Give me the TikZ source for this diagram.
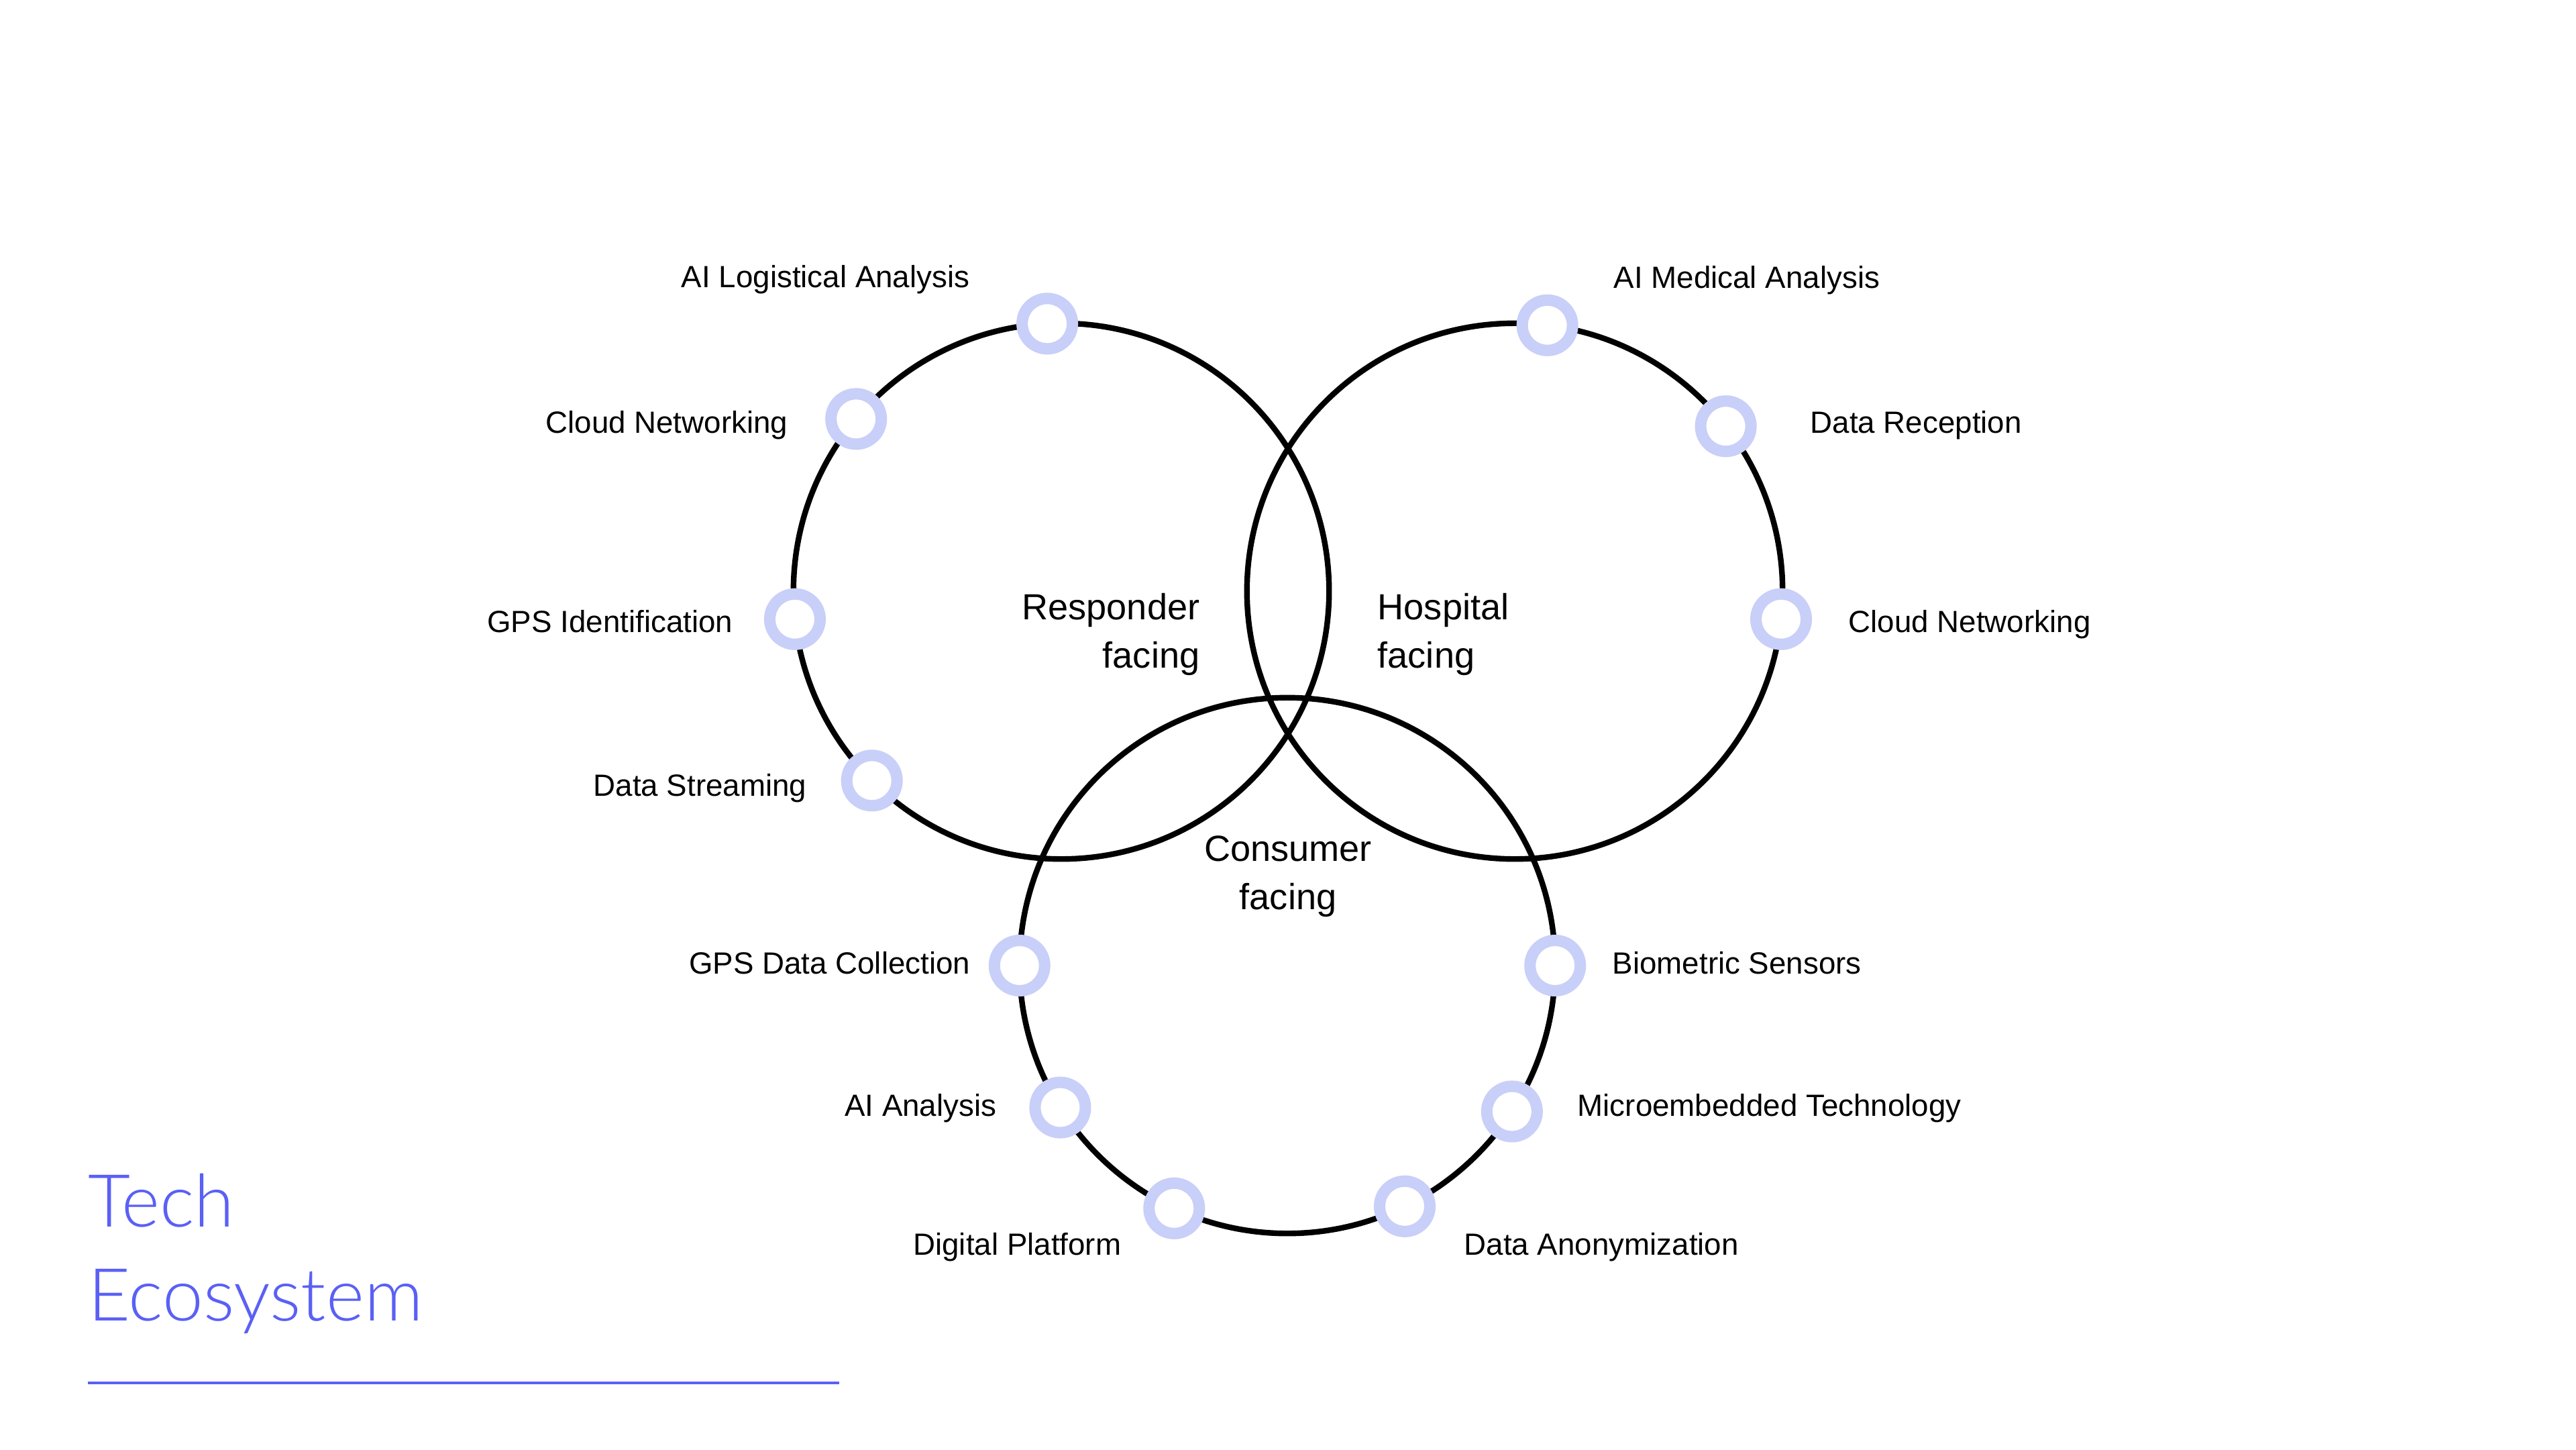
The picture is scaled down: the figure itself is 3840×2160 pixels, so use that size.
\documentclass[tikz,border=0pt]{standalone}
\usepackage{fontspec}
\setmainfont{Liberation Sans}
\newfontfamily\titlefont{Lato Light}
\definecolor{ringc}{RGB}{200,207,248}
\definecolor{titlec}{RGB}{90,96,245}
\begin{document}
\begin{tikzpicture}[x=0.01cm,y=-0.01cm,
  bigc/.style={circle,draw=black,line width=0.084cm,minimum size=7.98cm,inner sep=0pt,outer sep=0pt},
  ringnode/.style={circle,draw=ringc,fill=white,line width=0.17cm,minimum size=0.75cm,inner sep=0pt,outer sep=0pt},
  lbl/.style={font=\fontsize{13pt}{15.6pt}\selectfont,inner sep=0pt},
  ctr/.style={font=\fontsize{15.4pt}{20.3pt}\selectfont,inner sep=0pt},
  ttl/.style={font=\titlefont\fontsize{31pt}{39.7pt}\selectfont,text=titlec,inner sep=0pt},
  uline/.style={draw=titlec,line width=0.033cm}
]
\fill[white] (0,0) rectangle (3840,2160);
\useasboundingbox (0,0) rectangle (3840,2160);

% main circles
\node[bigc] (resp) at (1582,881) {};
\node[bigc] (hosp) at (2258,881) {};
\node[bigc] (cons) at (1919,1439) {};

% rings on responder circle
\node[ringnode] (ra) at (resp.93.6) {};
\node[ringnode] (rb) at (resp.140.7) {};
\node[ringnode] (rc) at (resp.186.9) {};
\node[ringnode] (rd) at (resp.225.4) {};
% rings on hospital circle
\node[ringnode] (ha) at (hosp.83.3) {};
\node[ringnode] (hb) at (hosp.38.8) {};
\node[ringnode] (hc) at (hosp.-6.8) {};
% rings on consumer circle
\node[ringnode] (ca) at (cons.180) {};
\node[ringnode] (cb) at (cons.212.4) {};
\node[ringnode] (cc) at (cons.245.1) {};
\node[ringnode] (cd) at (cons.296.6) {};
\node[ringnode] (ce) at (cons.327.8) {};
\node[ringnode] (cf) at (cons.0) {};

% labels
\node[lbl,anchor=base east] (l1) at (1446,428) {AI Logistical Analysis};
\node[lbl,anchor=base east] (l2) at (1175,645) {Cloud Networking};
\node[lbl,anchor=base east] (l3) at (1093,942) {GPS Identification};
\node[lbl,anchor=base east] (l4) at (1203,1186) {Data Streaming};
\node[lbl,anchor=base west] (l5) at (2405,429) {AI Medical Analysis};
\node[lbl,anchor=base west] (l6) at (2698,645) {Data Reception};
\node[lbl,anchor=base west] (l7) at (2755,942) {Cloud Networking};
\node[lbl,anchor=base east] (l8) at (1447,1451) {GPS Data Collection};
\node[lbl,anchor=base east] (l9) at (1486,1663) {AI Analysis};
\node[lbl,anchor=base east] (l10) at (1672,1870) {Digital Platform};
\node[lbl,anchor=base west] (l11) at (2182,1870) {Data Anonymization};
\node[lbl,anchor=base west] (l12) at (2351,1663) {Microembedded Technology};
\node[lbl,anchor=base west] (l13) at (2403,1451) {Biometric Sensors};

% centre labels (anchor on the baseline of the last line)
\node[ctr,align=right,anchor=base east] (tresp) at (1789,995) {Responder\\facing};
\node[ctr,align=left,anchor=base west] (thosp) at (2053,995) {Hospital\\facing};
\node[ctr,align=center,anchor=base] (tcons) at (1920,1355) {Consumer\\facing};

% title
\node[ttl,align=left,anchor=base west] (title) at (131,1968) {Tech\\Ecosystem};
\coordinate (u1) at (131,2061);
\coordinate (u2) at (1251,2061);
\draw[uline] (u1) -- (u2);
\end{tikzpicture}
\end{document}
